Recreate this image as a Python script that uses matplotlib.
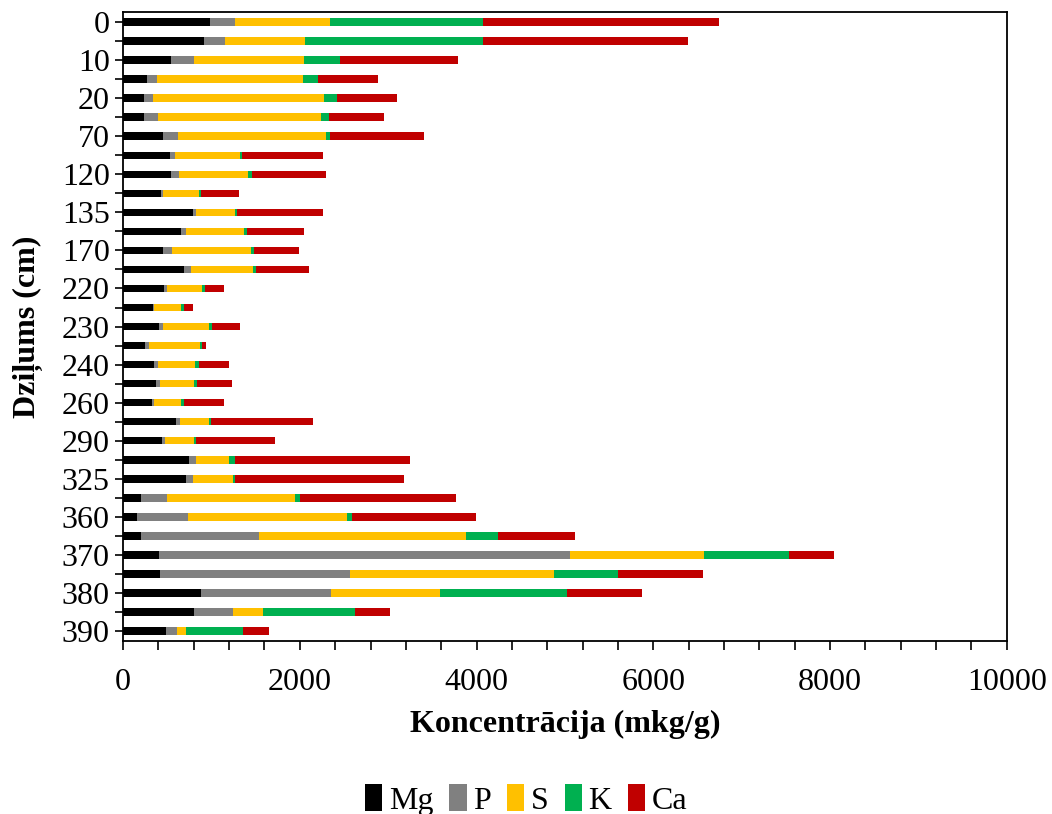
import matplotlib.pyplot as plt
import numpy as np
from matplotlib.ticker import MultipleLocator

plt.rcParams['font.family'] = ['Liberation Serif', 'DejaVu Serif']

# dziļumi (cm) - every other label is shown on the axis
depths = ['0', '5', '10', '15', '20', '50', '70', '100', '120', '130',
          '135', '150', '170', '200', '220', '225', '230', '235', '240', '250',
          '260', '280', '290', '310', '325', '350', '360', '365', '370', '375',
          '380', '385', '390']

Mg = [985, 919, 547, 276, 233, 233, 457, 533, 538, 424,
      795, 660, 452, 690, 464, 343, 411, 245, 351, 373,
      328, 599, 437, 750, 716, 204, 158, 206, 409, 421,
      882, 807, 490]
P = [286, 238, 257, 110, 110, 157, 162, 57, 100, 33,
     31, 53, 106, 79, 34, 8, 45, 49, 45, 45,
     26, 49, 38, 72, 76, 297, 578, 1333, 4646, 2144,
     1476, 438, 121]
S = [1071, 899, 1248, 1651, 1932, 1852, 1680, 733, 780, 400,
     441, 659, 893, 705, 399, 309, 517, 573, 418, 385,
     302, 325, 324, 381, 448, 1448, 1795, 2340, 1522, 2317,
     1227, 340, 104]
K = [1728, 2014, 399, 167, 143, 86, 38, 24, 39, 28,
     26, 27, 27, 26, 27, 30, 30, 30, 49, 30,
     34, 26, 27, 64, 27, 49, 62, 360, 962, 721,
     1441, 1043, 645]
Ca = [2675, 2323, 1338, 681, 686, 628, 1071, 914, 842, 424,
      965, 652, 513, 604, 218, 105, 317, 46, 336, 396,
      456, 1154, 889, 1975, 1911, 1764, 1406, 870, 508, 962,
      842, 387, 288]

series = [('Mg', Mg, '#000000'), ('P', P, '#808080'), ('S', S, '#FFC000'),
          ('K', K, '#00B050'), ('Ca', Ca, '#C00000')]

fs = 23

fig = plt.figure(figsize=(10.52, 8.14), dpi=100)
ax = fig.add_axes([0.117, 0.2125, 0.840, 0.7727])

y = np.arange(len(depths))
left = np.zeros(len(depths))
for name, vals, col in series:
    vals = np.array(vals, dtype=float)
    ax.barh(y, vals, left=left, height=0.4, color=col, label=name)
    left += vals

ax.set_ylim(len(depths) - 0.47, -0.53)
ax.set_yticks(y)
ax.set_yticklabels([d if i % 2 == 0 else '' for i, d in enumerate(depths)])
ax.set_xlim(0, 10000)
ax.xaxis.set_major_locator(MultipleLocator(2000))
ax.xaxis.set_minor_locator(MultipleLocator(400))

ax.tick_params(axis='y', which='major', length=5.5, width=1.2, labelsize=fs, pad=4)
ax.tick_params(axis='x', which='both', length=6.5, width=1.2, labelsize=fs, pad=13)
for s in ax.spines.values():
    s.set_linewidth(1.3)

ax.set_xlabel('Koncentrācija (mkg/g)', fontsize=fs, fontweight='bold')
ax.set_ylabel('Dziļums (cm)', fontsize=fs, fontweight='bold')
ax.xaxis.set_label_coords(0.5, -0.109)
ax.yaxis.set_label_coords(-0.091, 0.5)

fig.legend(loc='center', bbox_to_anchor=(0.5, 14 / 814), ncol=5, fontsize=fs,
           frameon=False, handlelength=0.55, handleheight=0.9, handletextpad=0.2,
           columnspacing=0.5)

fig.savefig('out.png', dpi=100)
